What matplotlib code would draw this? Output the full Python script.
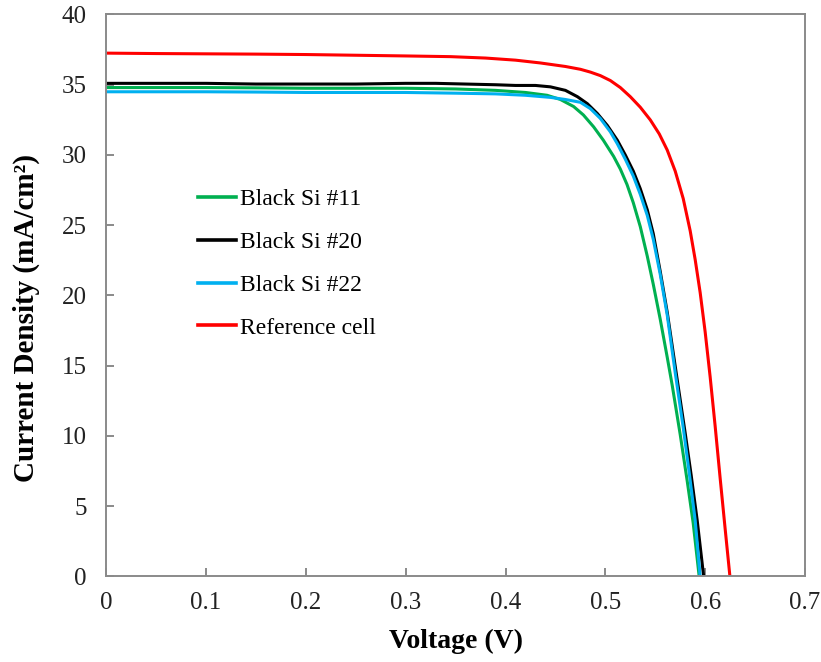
import matplotlib
matplotlib.use("Agg")
import matplotlib.pyplot as plt

plt.rcParams['font.family'] = ['Liberation Serif', 'DejaVu Serif']

# Data
v_11 = [0, 0.05, 0.1, 0.15, 0.2, 0.25, 0.3, 0.35, 0.39, 0.42, 0.4416, 0.455, 0.4682, 0.478, 0.4883,
        0.498, 0.5083, 0.515, 0.5217, 0.528, 0.535, 0.542, 0.548, 0.555, 0.562, 0.567, 0.575, 0.582,
        0.588, 0.594]
j_11 = [34.8, 34.8, 34.8, 34.78, 34.75, 34.75, 34.75, 34.7, 34.6, 34.45, 34.25, 33.95, 33.45, 32.85, 32.0,
        31.05, 29.9, 29.0, 27.9, 26.6, 24.9, 22.8, 20.8, 18.3, 15.6, 13.6, 10.1, 6.8,
        3.8, 0]

v_20 = [0, 0.05, 0.1, 0.15, 0.2, 0.25, 0.3, 0.33, 0.36, 0.39, 0.41, 0.43, 0.445, 0.46, 0.472, 0.482,
        0.492, 0.502, 0.512, 0.52, 0.528, 0.535, 0.542, 0.548, 0.555, 0.562, 0.572, 0.58, 0.586, 0.592, 0.5985]
j_20 = [35.1, 35.1, 35.1, 35.05, 35.05, 35.05, 35.1, 35.1, 35.05, 35.0, 34.95, 34.95, 34.85, 34.6, 34.15, 33.65,
        32.95, 32.1, 31.05, 30.0, 28.85, 27.6, 26.1, 24.4, 21.7, 18.8, 14.0, 10.2, 7.2, 4.0, 0]

v_22 = [0, 0.05, 0.1, 0.15, 0.2, 0.25, 0.3, 0.35, 0.39, 0.42, 0.445, 0.46, 0.475, 0.485, 0.495, 0.505,
        0.512, 0.52, 0.528, 0.535, 0.542, 0.548, 0.555, 0.562, 0.570, 0.578, 0.584, 0.59, 0.595]
j_22 = [34.5, 34.5, 34.5, 34.48, 34.45, 34.45, 34.45, 34.4, 34.35, 34.25, 34.1, 33.95, 33.75, 33.3, 32.6, 31.65,
        30.8, 29.7, 28.5, 27.2, 25.7, 24.0, 21.5, 18.6, 14.5, 10.6, 7.4, 4.0, 0]

v_ref = [0, 0.05, 0.1, 0.15, 0.2, 0.25, 0.3, 0.345, 0.38, 0.41, 0.435, 0.46, 0.475, 0.485, 0.495, 0.505,
         0.515, 0.525, 0.535, 0.545, 0.554, 0.562, 0.57, 0.578, 0.585, 0.59, 0.595, 0.6, 0.605, 0.61, 0.615,
         0.62, 0.6248]
j_ref = [37.25, 37.22, 37.2, 37.18, 37.15, 37.1, 37.05, 37.0, 36.9, 36.75, 36.55, 36.3, 36.1, 35.9, 35.65, 35.3,
         34.8, 34.15, 33.4, 32.5, 31.5, 30.35, 28.85, 26.9, 24.6, 22.55, 20.2, 17.4, 14.2, 10.7, 7.0,
         3.4, 0]

labels = ["Black Si #11", "Black Si #20", "Black Si #22", "Reference cell"]
colors = ["#00B050", "#000000", "#00B0F0", "#FF0000"]

x_ticks = [0, 0.1, 0.2, 0.3, 0.4, 0.5, 0.6, 0.7]
x_ticklabels = ["0", "0.1", "0.2", "0.3", "0.4", "0.5", "0.6", "0.7"]
y_ticks = [0, 5, 10, 15, 20, 25, 30, 35, 40]

fig = plt.figure(figsize=(8.21, 6.62), dpi=100)
ax = fig.add_axes([0.1294, 0.1292, 0.8511, 0.8489])

series = [(v_11, j_11), (v_20, j_20), (v_22, j_22), (v_ref, j_ref)]
for (v, j), lab, c in zip(series, labels, colors):
    ax.plot(v, j, color=c, lw=2.2, label=lab, solid_joinstyle="round")

ax.set_xlim(0, 0.7)
ax.set_ylim(0, 40)
ax.set_xticks(x_ticks)
ax.set_xticklabels(x_ticklabels)
ax.set_yticks(y_ticks)

for s in ax.spines.values():
    s.set_color("#8a8a8a")
    s.set_linewidth(1.4)

ax.tick_params(direction="in", length=6, width=1.4, color="#8a8a8a",
               labelsize=18, labelcolor="#222222")
ax.tick_params(axis="x", pad=11)
ax.tick_params(axis="y", pad=14)

ax.set_xlabel("Voltage (V)", fontsize=20, fontweight="bold", labelpad=11)
ax.set_ylabel("Current Density (mA/cm²)", fontsize=21, fontweight="bold", labelpad=12)
ax.yaxis.set_label_coords(-0.095, 0.46)

leg = ax.legend(loc="upper left", bbox_to_anchor=(0.131, 0.690), frameon=False,
                fontsize=17, handlelength=1.6, handletextpad=0.2,
                labelspacing=0.9, borderpad=0, borderaxespad=0)
for line in leg.get_lines():
    line.set_linewidth(2.6)

fig.savefig("out.png", dpi=100)
